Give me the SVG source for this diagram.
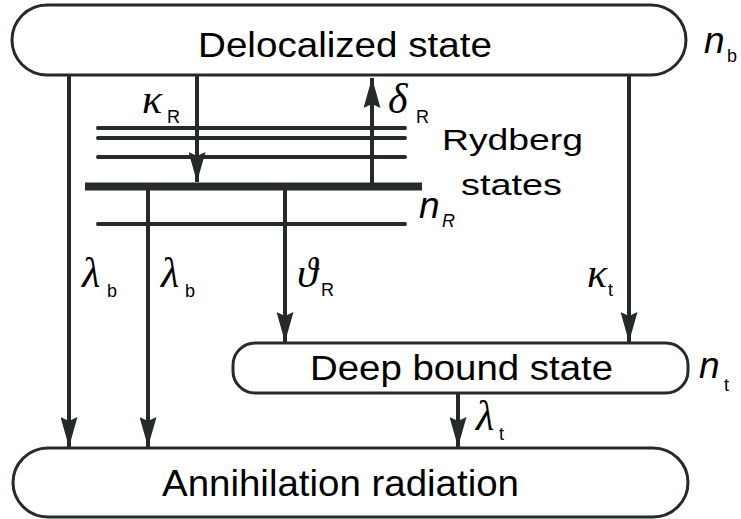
<svg xmlns="http://www.w3.org/2000/svg" width="741" height="519" viewBox="0 0 741 519">
<style>
.box{fill:#fff;stroke:#262a28;stroke-width:3}
.lbl{font-family:"Liberation Sans",Arial,sans-serif;fill:#000}
.gr{font-family:"Liberation Serif","DejaVu Serif",serif;font-style:italic;font-size:42px;fill:#000}
.sub{font-family:"Liberation Sans",Arial,sans-serif;font-size:18px;fill:#000}
.ni{font-family:"Liberation Sans",Arial,sans-serif;font-style:italic;font-size:37px;fill:#000}
.arr{stroke:#262a28;stroke-width:4;fill:none;marker-end:url(#ah)}
.lvl{stroke:#262a28;stroke-width:4;stroke-linecap:round}
</style>
<defs>
<marker id="ah" viewBox="0 0 30 17" refX="30" refY="8.5" markerWidth="30" markerHeight="17" markerUnits="userSpaceOnUse" orient="auto">
<path d="M0,0 L30,8.5 L0,17 L4,8.5 Z" fill="#262a28"/>
</marker>
</defs>
<rect width="741" height="519" fill="#fff"/>

<g id="delocalized">
<rect class="box" x="12" y="5" width="674" height="70" rx="35" ry="35"/>
<text class="lbl" x="198" y="57" font-size="35" textLength="294" lengthAdjust="spacingAndGlyphs">Delocalized state</text>
<text class="ni" x="704" y="53">n</text><text class="sub" x="727" y="62" font-size="17">b</text>
</g>

<g id="rydberg">
<line class="lvl" x1="98" y1="128" x2="405" y2="128"/>
<line class="lvl" x1="98" y1="138" x2="405" y2="138"/>
<line class="lvl" x1="98" y1="157" x2="405" y2="157"/>
<line x1="85" y1="186.5" x2="422" y2="186.5" stroke="#262a28" stroke-width="8"/>
<line class="lvl" x1="98" y1="224" x2="405" y2="224"/>
<text class="lbl" x="442" y="150" font-size="30" textLength="141" lengthAdjust="spacingAndGlyphs">Rydberg</text>
<text class="lbl" x="461" y="195" font-size="30" textLength="101" lengthAdjust="spacingAndGlyphs">states</text>
<text class="ni" x="419" y="218">n</text><text class="sub" x="442" y="227" font-size="20" font-style="italic">R</text>
</g>

<g id="deepbound">
<rect class="box" x="233" y="343" width="455" height="50" rx="22" ry="22"/>
<text class="lbl" x="310" y="380" font-size="35" textLength="303" lengthAdjust="spacingAndGlyphs">Deep bound state</text>
<text class="ni" x="699" y="378">n</text><text class="sub" x="724" y="391" font-size="17">t</text>
</g>

<g id="annihilation">
<rect class="box" x="13" y="448" width="675" height="69" rx="35" ry="35"/>
<text class="lbl" x="162" y="496" font-size="36" textLength="357" lengthAdjust="spacingAndGlyphs">Annihilation radiation</text>
</g>

<g id="connectors">
<line class="arr" x1="69" y1="75" x2="69" y2="447"/>
<line class="arr" x1="148" y1="190" x2="148" y2="447"/>
<line class="arr" x1="197" y1="75" x2="197" y2="182"/>
<line class="arr" x1="372" y1="183" x2="372" y2="78"/>
<line class="arr" x1="285" y1="190" x2="285" y2="342"/>
<line class="arr" x1="629" y1="75" x2="629" y2="342"/>
<line class="arr" x1="458" y1="393" x2="458" y2="447"/>
</g>

<g id="labels">
<text class="gr" x="142" y="113">κ</text><text class="sub" x="167" y="123">R</text>
<text class="gr" x="388" y="113">δ</text><text class="sub" x="416" y="123" font-size="20">R</text>
<text class="gr" x="82" y="287">λ</text><text class="sub" x="107" y="297">b</text>
<text class="gr" x="161" y="287">λ</text><text class="sub" x="185" y="297">b</text>
<text class="gr" x="297" y="287">ϑ</text><text class="sub" x="321" y="296">R</text>
<text class="gr" x="587" y="287">κ</text><text class="sub" x="608" y="296">t</text>
<text class="gr" x="476" y="430" font-size="34">λ</text><text class="sub" x="499" y="440">t</text>
</g>
</svg>
